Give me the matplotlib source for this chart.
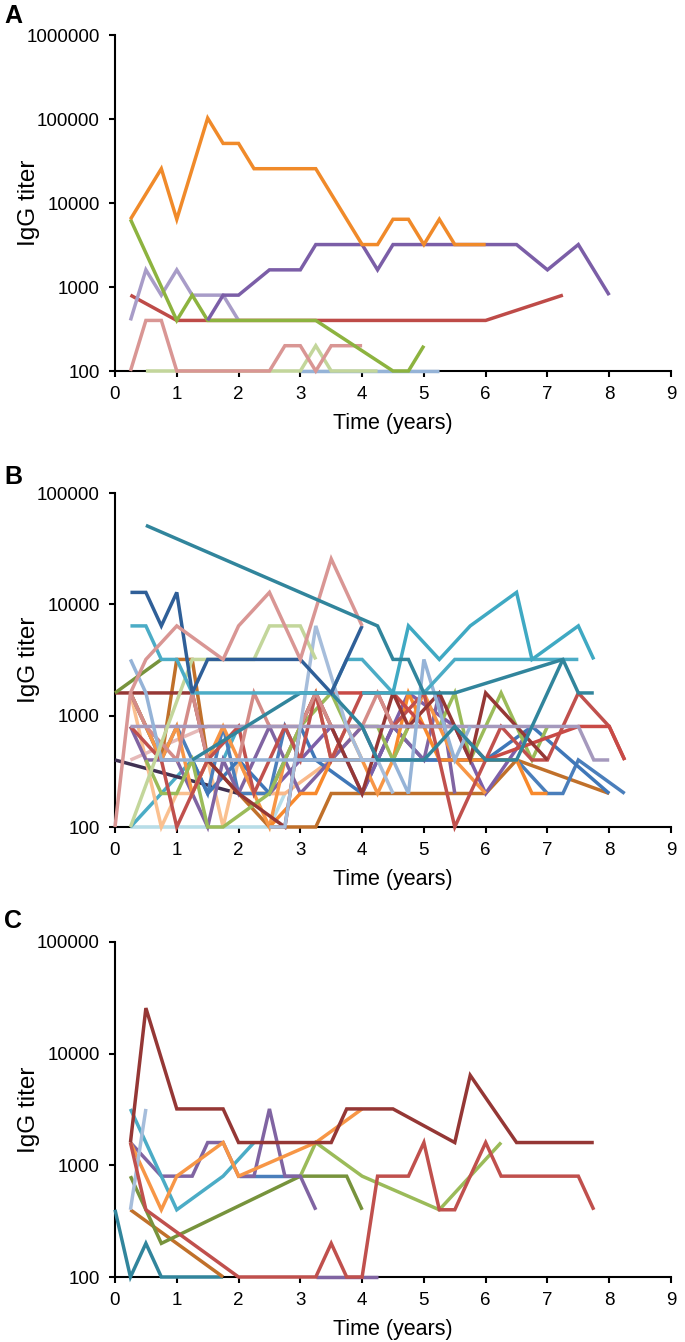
import matplotlib
matplotlib.use("Agg")
import matplotlib.pyplot as plt
from matplotlib.ticker import FixedLocator, NullLocator

plt.rcParams['font.family'] = ['Liberation Sans', 'DejaVu Sans']

# ---------------- Panel A data (time in years, IgG titer) ----------------
a_orange = [(0.25, 6400), (0.75, 25600), (1.0, 6400), (1.5, 102400), (1.75, 51200), (2.0, 51200),
            (2.25, 25600), (3.25, 25600), (4.0, 3200), (4.25, 3200), (4.5, 6400), (4.75, 6400),
            (5.0, 3200), (5.25, 6400), (5.5, 3200), (6.0, 3200)]
a_purple = [(1.5, 400), (1.75, 800), (2.0, 800), (2.5, 1600), (3.0, 1600), (3.25, 3200), (4.0, 3200),
            (4.25, 1600), (4.5, 3200), (6.5, 3200), (7.0, 1600), (7.5, 3200), (8.0, 800)]
a_green = [(0.25, 6400), (1.0, 400), (1.25, 800), (1.5, 400), (3.25, 400), (4.5, 100), (4.75, 100), (5.0, 200)]
a_red = [(0.25, 800), (1.0, 400), (6.0, 400), (7.25, 800)]
a_lavender = [(0.25, 400), (0.5, 1600), (0.75, 800), (1.0, 1600), (1.25, 800), (1.75, 800), (2.0, 400)]
a_pink = [(0.25, 100), (0.5, 400), (0.75, 400), (1.0, 100), (2.5, 100), (2.75, 200), (3.0, 200),
          (3.25, 100), (3.5, 200), (4.0, 200)]
a_lightgreen = [(0.5, 100), (3.0, 100), (3.25, 200), (3.5, 100), (4.25, 100)]
a_lightblue = [(3.0, 100), (5.25, 100)]
a_series = [a_lightblue, a_lightgreen, a_pink, a_red, a_lavender, a_green, a_purple, a_orange]
a_colors = ['#95b3d7', '#c3d69b', '#d99694', '#be4b48', '#a89cc8', '#8db33f', '#7b5ea7', '#f08a2a']

# ---------------- Panel B data ----------------
b_teal = [(0.5, 51200), (4.25, 6400), (4.5, 3200), (4.75, 3200), (5.0, 1600), (5.5, 1600),
          (7.25, 3200), (7.5, 1600), (7.75, 1600)]
b_teal2 = [(1.25, 400), (3.0, 1600), (3.5, 1600), (4.0, 800), (4.25, 400), (4.5, 400), (5.0, 400),
           (5.5, 800), (6.0, 400), (6.5, 400), (6.75, 800), (7.25, 3200)]
b_darkblue = [(0.25, 12800), (0.5, 12800), (0.75, 6400), (1.0, 12800), (1.25, 1600), (1.5, 3200),
              (3.0, 3200), (3.5, 1600), (4.0, 6400)]
b_aqua = [(0.25, 6400), (0.5, 6400), (0.75, 3200), (1.0, 3200), (1.25, 1600), (3.5, 1600), (3.75, 3200),
          (4.0, 3200), (4.5, 1600), (5.0, 1600), (5.5, 3200), (7.5, 3200)]
b_aqua2 = [(4.0, 1600), (4.5, 1600), (4.75, 6400), (5.25, 3200), (5.75, 6400), (6.5, 12800),
           (6.75, 3200), (7.5, 6400), (7.75, 3200)]
b_pink = [(0.0, 100), (0.25, 1600), (0.5, 3200), (1.0, 6400), (1.75, 3200), (2.0, 6400), (2.5, 12800),
          (3.0, 3200), (3.5, 25600), (4.0, 6400)]
b_lightgreen = [(0.25, 100), (1.25, 3200), (2.25, 3200), (2.5, 6400), (3.0, 6400), (3.25, 3200)]
b_olive = [(0.0, 1600), (0.75, 3200)]
b_darkred = [(0.0, 1600), (1.25, 1600), (1.5, 400), (2.0, 200), (2.75, 100), (3.0, 800), (3.25, 1600),
             (3.75, 400), (4.0, 200), (4.5, 1600), (4.75, 800), (5.25, 1600), (5.5, 800), (5.75, 400),
             (6.0, 1600), (6.5, 800), (7.0, 400)]
b_red = [(0.25, 800), (0.75, 400), (1.0, 100), (1.5, 400), (2.0, 800), (2.25, 200), (2.75, 800),
         (3.0, 400), (3.25, 1600), (3.5, 400), (4.0, 1600), (4.25, 1600), (4.5, 800), (5.0, 1600),
         (5.5, 100), (6.0, 400), (6.25, 800), (6.75, 400), (7.0, 400), (7.5, 1600), (8.0, 800), (8.25, 400)]
b_red2 = [(3.25, 1600), (4.5, 1600), (5.0, 800), (5.5, 800), (6.0, 400), (7.5, 800), (8.0, 800), (8.25, 400)]
b_salmon = [(0.25, 1600), (0.5, 800), (1.0, 400), (1.25, 1600), (1.5, 400), (2.0, 400), (2.25, 1600),
            (2.5, 800), (3.0, 800), (3.25, 1600), (3.5, 800), (4.0, 800), (4.25, 1600), (4.5, 800), (5.0, 800)]
b_blue = [(0.25, 1600), (0.5, 800), (0.75, 400), (1.0, 800), (1.25, 400), (1.5, 200), (1.75, 800),
          (2.0, 200), (2.5, 200), (2.75, 800), (3.0, 400), (5.5, 400), (6.0, 400), (6.5, 400),
          (7.0, 200), (7.25, 200), (7.5, 400), (8.25, 200)]
b_blue2 = [(1.25, 400), (1.5, 200), (2.0, 400), (2.5, 200), (3.0, 800), (3.25, 400), (4.0, 200),
           (4.5, 800), (5.0, 400), (6.0, 400), (6.75, 800), (8.0, 200)]
b_orange = [(0.25, 1600), (0.5, 800), (0.75, 400), (1.0, 800), (1.25, 200), (1.75, 800), (2.25, 200),
            (2.5, 100), (2.75, 400), (3.25, 1600), (3.5, 400), (3.75, 800), (4.0, 400), (4.25, 200),
            (4.75, 800), (5.0, 1600), (5.5, 400), (6.0, 200)]
b_orange2 = [(2.5, 100), (3.0, 200), (3.25, 200), (3.5, 400), (4.5, 400), (4.75, 1600), (5.0, 800),
             (5.25, 400), (6.5, 400), (6.75, 200), (7.0, 200)]
b_brown = [(0.25, 1600), (0.5, 800), (0.75, 400), (1.0, 3200), (1.25, 3200), (1.5, 400), (2.0, 200), (2.5, 100)]
b_brown2 = [(2.5, 100), (3.25, 100), (3.5, 200), (6.0, 200), (6.5, 400), (8.0, 200)]
b_purple = [(0.25, 800), (0.5, 400), (1.0, 400), (1.5, 100), (1.75, 400), (2.0, 200), (2.25, 400),
            (2.5, 800), (2.75, 400), (3.0, 200), (3.5, 400), (4.0, 800), (4.25, 400), (4.5, 800),
            (5.0, 400), (5.25, 1600), (5.5, 200)]
b_purple2 = [(2.5, 200), (3.0, 400), (3.5, 800), (4.0, 200), (4.25, 400), (4.75, 1600), (5.5, 800),
             (6.0, 200), (6.75, 800)]
b_darkpurple = [(0.0, 400), (2.0, 200)]
b_lavender = [(0.25, 800), (7.5, 800), (7.75, 400), (8.0, 400)]
b_steel = [(0.25, 3200), (0.5, 1600), (0.75, 400), (4.5, 400), (4.75, 200), (5.0, 3200), (5.5, 400),
           (5.75, 800)]
b_steel2 = [(2.5, 100), (2.75, 100), (3.25, 6400), (3.75, 800), (4.0, 400), (4.25, 400), (4.5, 200)]
b_peach = [(0.25, 1600), (0.75, 100), (1.0, 200), (1.25, 200), (1.5, 400), (1.75, 100), (2.0, 400),
           (2.25, 200), (2.75, 200)]
b_palepink = [(0.25, 400), (1.5, 800), (2.25, 800)]
b_peach2 = [(2.0, 200), (2.75, 200), (3.5, 400), (4.0, 800)]
b_green = [(0.5, 400), (0.75, 200), (1.0, 200), (1.25, 400), (1.5, 100), (1.75, 100), (2.5, 200),
           (3.0, 800), (3.5, 1600), (3.75, 800), (4.25, 800), (4.5, 400), (4.75, 800), (5.25, 800),
           (5.5, 1600), (5.75, 400), (6.25, 1600), (6.75, 400), (7.0, 800)]
b_paleaqua = [(0.25, 100), (2.5, 100), (2.75, 200)]
b_aqua3 = [(0.25, 100), (1.25, 400), (1.75, 400), (2.0, 800)]
b_series = [b_paleaqua, b_aqua3, b_darkpurple, b_peach, b_peach2, b_palepink, b_brown, b_brown2,
            b_blue, b_blue2, b_purple, b_purple2, b_orange, b_orange2, b_green, b_red, b_red2,
            b_darkred, b_salmon, b_lavender, b_steel, b_steel2, b_teal2, b_olive, b_lightgreen,
            b_aqua, b_aqua2, b_darkblue, b_pink, b_teal]
b_colors = ['#b7dde8', '#4bacc6', '#403152', '#fac090', '#f9b98a', '#e6b9b8', '#c0702a', '#c0702a',
            '#4a7ebb', '#3f77b8', '#8064a2', '#7d5fa8', '#f79646', '#f8892c', '#9bbb59', '#c0504d', '#c84a46',
            '#953735', '#d48c88', '#a599bd', '#95b3d7', '#a6bddb', '#31859c', '#77933c', '#c3d69b',
            '#4bacc6', '#3fa9c3', '#2f5f98', '#d99694', '#31859c']

# ---------------- Panel C data ----------------
c_darkred = [(0.25, 1600), (0.5, 25600), (1.0, 3200), (1.75, 3200), (2.0, 1600), (3.5, 1600),
             (3.75, 3200), (4.5, 3200), (5.5, 1600), (5.75, 6400), (6.5, 1600), (7.75, 1600)]
c_red = [(0.25, 1600), (0.5, 400), (2.0, 100), (3.25, 100), (3.5, 200), (3.75, 100), (4.0, 100),
         (4.25, 800), (4.75, 800), (5.0, 1600), (5.25, 400), (5.5, 400), (6.0, 1600), (6.25, 800),
         (7.5, 800), (7.75, 400)]
c_aqua = [(0.25, 3200), (0.5, 1600), (1.0, 400), (1.75, 800), (2.25, 1600)]
c_steel = [(0.25, 400), (0.5, 3200)]
c_purple = [(0.25, 1600), (0.75, 800), (1.25, 800), (1.5, 1600), (1.75, 1600), (2.0, 800), (2.25, 800),
            (2.5, 3200), (2.75, 800), (3.0, 800), (3.25, 400)]
c_purple_low = [(3.25, 100), (4.25, 100)]
c_blue = [(2.0, 800), (3.0, 800)]
c_orange = [(0.25, 1600), (0.75, 400), (1.0, 800), (1.75, 1600), (2.0, 800), (3.25, 1600), (4.0, 3200)]
c_olive = [(0.25, 800), (0.75, 200), (3.0, 800), (3.75, 800), (4.0, 400)]
c_lightgreen = [(3.0, 800), (3.25, 1600), (4.0, 800), (5.25, 400), (6.25, 1600)]
c_brown = [(0.25, 400), (1.75, 100)]
c_teal = [(0.0, 400), (0.25, 100), (0.5, 200), (0.75, 100), (1.75, 100)]
c_series = [c_teal, c_brown, c_purple_low, c_blue, c_olive, c_lightgreen, c_purple, c_aqua,
            c_orange, c_steel, c_red, c_darkred]
c_colors = ['#31859c', '#c0702a', '#8064a2', '#4a7ebb', '#77933c', '#9bbb59', '#8064a2', '#4bacc6',
            '#f79646', '#a6bddb', '#c0504d', '#953735']

# ---------------- axis settings ----------------
x_ticks = [0, 1, 2, 3, 4, 5, 6, 7, 8, 9]
a_yticks = [100, 1000, 10000, 100000, 1000000]
bc_yticks = [100, 1000, 10000, 100000]
x_label = 'Time (years)'
y_label = 'IgG titer'
panel_letters = ['A', 'B', 'C']

fig = plt.figure(figsize=(6.85, 13.42), dpi=100)
W, H = 685.0, 1342.0


def make_axes(left, top, right, bottom):
    return fig.add_axes([left / W, 1 - bottom / H, (right - left) / W, (bottom - top) / H])


axes = [make_axes(115, 35, 671, 371), make_axes(115, 493, 671, 827), make_axes(115, 942, 671, 1277)]
all_series = [a_series, b_series, c_series]
all_colors = [a_colors, b_colors, c_colors]
all_yticks = [a_yticks, bc_yticks, bc_yticks]

for ax, series, colors, yt in zip(axes, all_series, all_colors, all_yticks):
    for s, col in zip(series, colors):
        xs = [p[0] for p in s]
        ys = [p[1] for p in s]
        ax.plot(xs, ys, color=col, lw=2.5, solid_joinstyle='miter', solid_capstyle='butt', clip_on=False)
    ax.set_yscale('log')
    ax.set_ylim(yt[0], yt[-1])
    ax.set_xlim(0, 9)
    ax.yaxis.set_major_locator(FixedLocator(yt))
    ax.yaxis.set_minor_locator(NullLocator())
    ax.set_yticklabels([str(v) for v in yt])
    ax.set_xticks(x_ticks)
    ax.set_xticklabels([str(v) for v in x_ticks])
    for side in ['top', 'right']:
        ax.spines[side].set_visible(False)
    for side in ['left', 'bottom']:
        ax.spines[side].set_linewidth(1.5)
        ax.spines[side].set_color('black')
        ax.spines[side].set_zorder(1)
    ax.tick_params(axis='both', direction='out', length=4, width=1.5, labelsize=13.5)
    ax.tick_params(axis='y', pad=7)
    ax.tick_params(axis='x', pad=7)
    ax.set_xlabel(x_label, fontsize=15.5, labelpad=7)
    ax.set_ylabel(y_label, fontsize=17.5)
    ax.yaxis.set_label_coords(-0.135, 0.5)

for letter, ypix in zip(panel_letters, [16, 477, 921]):
    fig.text(13 / W, 1 - ypix / H, letter, fontsize=18, fontweight='bold', ha='center', va='center')

fig.savefig('out.png', dpi=100)
